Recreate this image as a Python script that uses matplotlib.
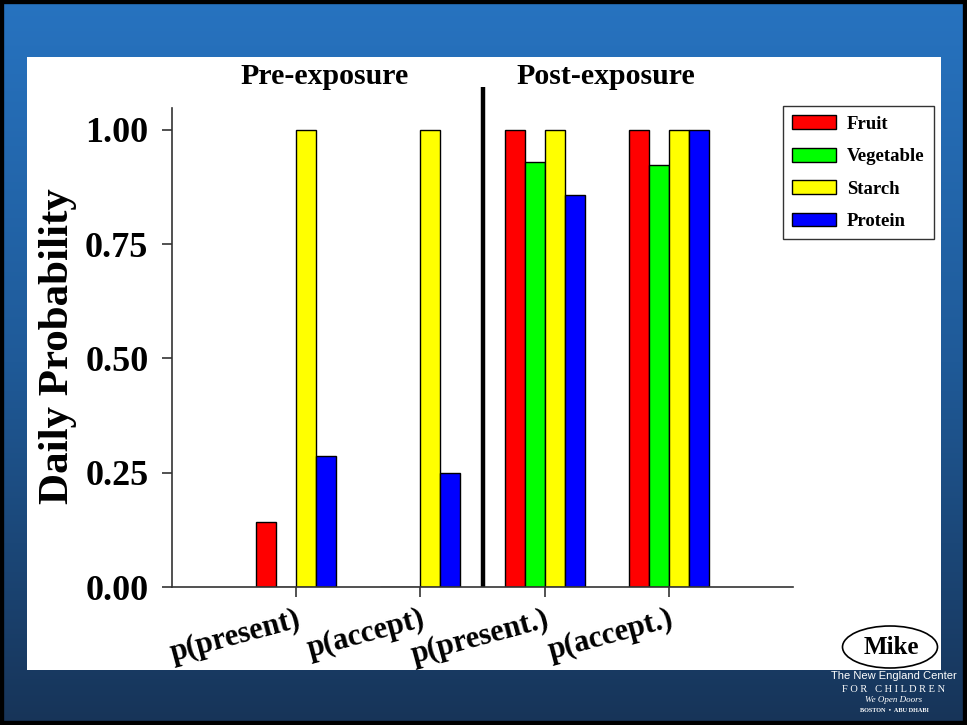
import numpy as np
import matplotlib
matplotlib.use("Agg")
import matplotlib.pyplot as plt
from matplotlib.patches import Rectangle, Ellipse
from matplotlib.colors import LinearSegmentedColormap

categories = ["p(present)", "p(accept)", "p(present.)", "p(accept.)"]
series_names = ["Fruit", "Vegetable", "Starch", "Protein"]
fruit = [0.143, 0.0, 1.0, 1.0]
vegetable = [0.0, 0.0, 0.929, 0.923]
starch = [1.0, 1.0, 1.0, 1.0]
protein = [0.286, 0.25, 0.857, 1.0]
colors = ["#ff0000", "#00ff00", "#ffff00", "#0000ff"]
yticks = [0.0, 0.25, 0.50, 0.75, 1.00]
ytick_labels = ["0.00", "0.25", "0.50", "0.75", "1.00"]

serif = ["Liberation Serif", "DejaVu Serif"]
plt.rcParams["font.family"] = serif

W, H = 967, 725
fig = plt.figure(figsize=(W / 100, H / 100), dpi=100)

# background gradient
bg = fig.add_axes([0, 0, 1, 1], zorder=-10)
cmap = LinearSegmentedColormap.from_list("g", ["#2773c0", "#1f5a98", "#173458"])
grad = np.linspace(0, 1, 256).reshape(-1, 1)
bg.imshow(grad, aspect="auto", cmap=cmap, extent=[0, 1, 0, 1], origin="upper")
bg.set_xlim(0, 1); bg.set_ylim(0, 1)
bg.axis("off")

def fx(px):
    return px / W

def fy(py):
    return (H - py) / H

# logo text (partly behind white panel)
fig.text(fx(894), fy(676), "The New England Center", color="white", fontsize=8,
         family=["Liberation Sans", "DejaVu Sans"], ha="center", va="center", zorder=-5)
fig.text(fx(894), fy(689), "F O R   C H I L D R E N", color="white", fontsize=7.5,
         ha="center", va="center", zorder=-5)
fig.text(fx(894), fy(700), "We Open Doors", color="white", fontsize=6.5, style="italic",
         ha="center", va="center", zorder=-5)
fig.text(fx(894), fy(711), "BOSTON  •  ABU DHABI", color="white", fontsize=4.5,
         ha="center", va="center", zorder=-5, weight="bold")

# white panel
fig.patches.append(Rectangle((fx(27), fy(670)), fx(941) - fx(27), fy(57) - fy(670),
                             transform=fig.transFigure, facecolor="white",
                             edgecolor="none", zorder=-4))
# black border
fig.patches.append(Rectangle((0, 0), 1, 1, transform=fig.transFigure, facecolor="none",
                             edgecolor="black", linewidth=6, zorder=10))

ax = fig.add_axes([fx(172), fy(587), fx(793) - fx(172), fy(108) - fy(587)])
ax.patch.set_alpha(0)

x = np.arange(len(categories))
bw = 20 / 124
all_series = [fruit, vegetable, starch, protein]
for i, (vals, name, c) in enumerate(zip(all_series, series_names, colors)):
    offs = (i - 1.5) * bw
    ax.bar(x + offs, vals, width=bw, color=c, edgecolor="black", linewidth=1.0, label=name)

ax.set_xlim(-1.0, 4.0)
ax.set_ylim(0, 1.048)
ax.set_yticks(yticks)
ax.set_yticklabels(ytick_labels, fontsize=26, weight="bold")
ax.set_xticks(x)
ax.set_xticklabels(categories, fontsize=22, weight="bold", rotation=15,
                   ha="right", va="top", rotation_mode="anchor")
ax.tick_params(axis="both", direction="out", length=7, width=1.2, color="#333333")
ax.tick_params(axis="x", pad=6)
ax.tick_params(axis="y", pad=10)
for s in ["top", "right"]:
    ax.spines[s].set_visible(False)
for s in ["left", "bottom"]:
    ax.spines[s].set_linewidth(1.2)
    ax.spines[s].set_color("#333333")

ax.set_ylabel("Daily Probability", fontsize=31, weight="bold")
ax.yaxis.set_label_coords((77 - 172) / 621, (587 - 346) / 479)

# divider
ax.plot([1.5, 1.5], [0, 1.095], color="black", linewidth=3.2, clip_on=False,
        solid_capstyle="butt")

fig.text(fx(325), fy(77), "Pre-exposure", fontsize=21.5, weight="bold",
         ha="center", va="center")
fig.text(fx(606), fy(77), "Post-exposure", fontsize=21.5, weight="bold",
         ha="center", va="center")

leg = ax.legend(loc="upper left", bbox_to_anchor=(fx(783), fy(106)),
                bbox_transform=fig.transFigure, frameon=True, fancybox=False,
                edgecolor="black", prop={"weight": "bold", "size": 13.5},
                handlelength=2.3, handleheight=0.75, labelspacing=0.8,
                borderpad=0.5, handletextpad=0.6, borderaxespad=0)
leg.get_frame().set_linewidth(1.0)

# Mike ellipse
fig.patches.append(Ellipse((fx(890), fy(647)), 95 / W, 42 / H, transform=fig.transFigure,
                           facecolor="white", edgecolor="black", linewidth=1.2, zorder=5))
fig.text(fx(891), fy(648), "Mike", fontsize=18, weight="bold", ha="center", va="center",
         zorder=6)

fig.savefig("out.png", dpi=100)
